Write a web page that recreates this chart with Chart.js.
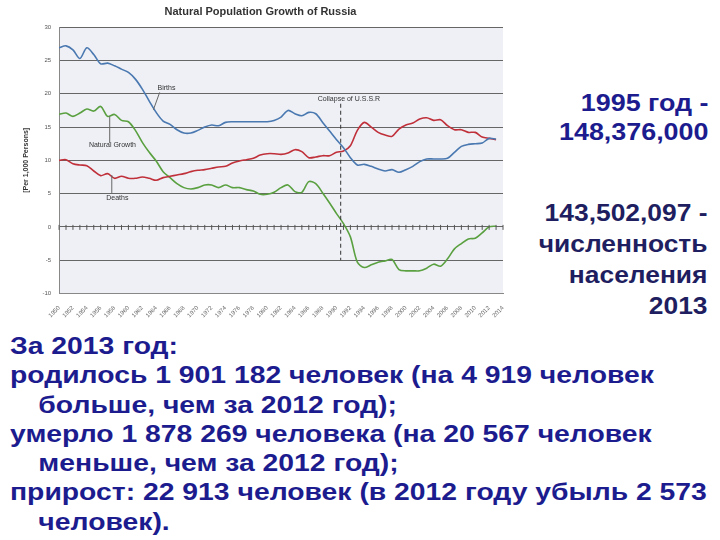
<!DOCTYPE html>
<html><head><meta charset="utf-8">
<script src="https://cdn.jsdelivr.net/npm/chart.js@4/dist/chart.umd.min.js"></script>
<style>
body{margin:0;width:720px;height:540px;background:#fff;position:relative;overflow:hidden;font-family:"Liberation Sans",Arial,sans-serif;}
#wrap{position:absolute;left:0;top:0;width:515px;height:322px;}
.t{position:absolute;color:#1c1c8f;font-weight:bold;font-size:24px;line-height:29px;white-space:nowrap;}
.ind{padding-left:24px;}
</style></head><body>
<div id="wrap"><canvas id="c"></canvas></div>
<div class="t" style="right:12px;top:88px;text-align:right;transform:scaleX(1.12);transform-origin:100% 0;">1995 год -<br>148,376,000</div>
<div class="t" style="right:12px;top:197px;text-align:right;line-height:31px;color:#1e1e60;transform:scaleX(1.1);transform-origin:100% 0;">143,502,097 -<br>численность<br>населения<br>2013</div>
<div class="t" style="left:10px;top:331px;transform:scaleX(1.18);transform-origin:0 0;line-height:29.3px;">За 2013 год:<br>родилось 1 901 182 человек (на 4 919 человек<br><span class="ind">больше, чем за 2012 год);</span><br>умерло 1 878 269 человека (на 20 567 человек<br><span class="ind">меньше, чем за 2012 год);</span><br>прирост: 22 913 человек (в 2012 году убыль 2 573<br><span class="ind">человек).</span></div>
<script>
const years=[];for(let y=1950;y<=2014;y++)years.push(String(y));
const births=[26.9,27.2,26.6,25.3,26.9,25.9,24.5,24.6,24.2,23.7,23.2,22.2,20.7,18.9,17.2,15.9,15.4,14.6,14.1,14.1,14.5,15.0,15.3,15.2,15.7,15.8,15.8,15.8,15.8,15.8,15.8,16.0,16.5,17.5,17.0,16.7,17.2,17.0,15.7,14.4,13.1,11.9,10.4,9.3,9.4,9.1,8.7,8.4,8.6,8.2,8.6,9.1,9.8,10.2,10.2,10.2,10.3,11.2,12.1,12.4,12.5,12.6,13.3,13.2];
const deaths=[10.0,10.1,9.5,9.3,9.2,8.4,7.7,8.0,7.3,7.6,7.3,7.3,7.5,7.3,7.0,7.4,7.6,7.8,8.0,8.3,8.5,8.6,8.8,9.0,9.1,9.6,9.9,10.1,10.3,10.8,11.0,11.0,10.9,11.1,11.6,11.3,10.4,10.5,10.7,10.7,11.2,11.4,12.2,14.5,15.7,15.0,14.2,13.8,13.6,14.7,15.3,15.6,16.2,16.4,16.0,16.1,15.2,14.6,14.6,14.2,14.2,13.5,13.3,13.1];
const growth=[16.9,17.1,16.6,17.1,17.7,17.4,18.1,16.6,16.9,16.0,15.8,14.5,12.7,11.2,9.9,8.3,7.4,6.5,5.9,5.7,5.9,6.3,6.3,5.9,6.3,5.9,5.9,5.6,5.4,4.9,4.9,5.2,5.9,6.3,5.3,5.2,6.8,6.5,5.1,3.6,2.0,0.5,-1.5,-5.3,-6.1,-5.7,-5.3,-5.1,-4.9,-6.4,-6.6,-6.6,-6.6,-6.2,-5.6,-5.9,-4.8,-3.3,-2.5,-1.8,-1.7,-0.9,0.0,0.1];
const yTicks=[30,25,20,15,10,5,0,-5,-10];
const collapseYear=1990.6;
const plug={id:'extra',
 beforeDraw(ch){const a=ch.chartArea,g=ch.ctx;g.save();g.fillStyle='#eef0f5';g.fillRect(a.left,a.top,a.right-a.left,a.bottom-a.top);g.restore();},
 afterDatasetsDraw(ch){const g=ch.ctx,x=ch.scales.x,y=ch.scales.y;g.save();
  const px=v=>x.getPixelForValue(v-1950);
  g.strokeStyle='#555';g.lineWidth=1;g.beginPath();
  for(let yr=1950;yr<=2014;yr++){const p=px(yr);g.moveTo(p,y.getPixelForValue(0)-2);g.lineTo(p,y.getPixelForValue(0)+3);}
  g.stroke();
  const cx=px(collapseYear);g.setLineDash([4,3]);g.strokeStyle='#333';g.beginPath();g.moveTo(cx,y.getPixelForValue(18.5));g.lineTo(cx,y.getPixelForValue(-5));g.stroke();g.setLineDash([]);
  g.font='7px "Liberation Sans"';g.fillStyle='#333';
  g.fillText('Collapse of U.S.S.R',px(1987.3),y.getPixelForValue(18.9));
  g.fillText('Births',px(1964.2),y.getPixelForValue(20.5));
  g.fillText('Natural Growth',px(1954.3),y.getPixelForValue(12.0));
  g.fillText('Deaths',px(1956.8),y.getPixelForValue(4.1));
  g.strokeStyle='#666';g.beginPath();
  g.moveTo(px(1964.5),y.getPixelForValue(20.2));g.lineTo(px(1963.6),y.getPixelForValue(17.6));
  g.moveTo(px(1957.3),y.getPixelForValue(16.6));g.lineTo(px(1957.3),y.getPixelForValue(12.6));
  g.moveTo(px(1957.6),y.getPixelForValue(7.8));g.lineTo(px(1957.6),y.getPixelForValue(5.1));
  g.stroke();g.restore();}};
const ds=(d,c)=>({data:d,borderColor:c,borderWidth:1.6,pointRadius:0,tension:0.3,fill:false});
new Chart(document.getElementById('c'),{type:'line',
 data:{labels:years,datasets:[ds(births,'#4a78b0'),ds(deaths,'#c0303a'),ds(growth,'#5aa040')]},
 options:{responsive:true,maintainAspectRatio:false,animation:false,
  layout:{padding:{left:18,right:12,top:0,bottom:0}},
  plugins:{legend:{display:false},tooltip:{enabled:false},
   title:{display:true,text:'Natural Population Growth of Russia',color:'#333',font:{family:'Liberation Sans',size:11,weight:'bold'},padding:{top:5,bottom:9}}},
  scales:{
   x:{offset:false,grid:{display:false},border:{color:'#888'},
    ticks:{autoSkip:false,maxRotation:45,minRotation:45,color:'#666',font:{size:6},callback:(v,i)=>i%2===0?years[i]:''}},
   y:{min:-10,max:30,afterBuildTicks:s=>{s.ticks=yTicks.map(v=>({value:v}));},
    grid:{color:'#666',drawTicks:false},border:{color:'#888'},
    ticks:{color:'#555',font:{size:6},padding:8},
    title:{display:true,text:'[Per 1,000 Persons]',color:'#333',font:{size:7,weight:'bold'}}}}},
 plugins:[plug]});
</script></body></html>
